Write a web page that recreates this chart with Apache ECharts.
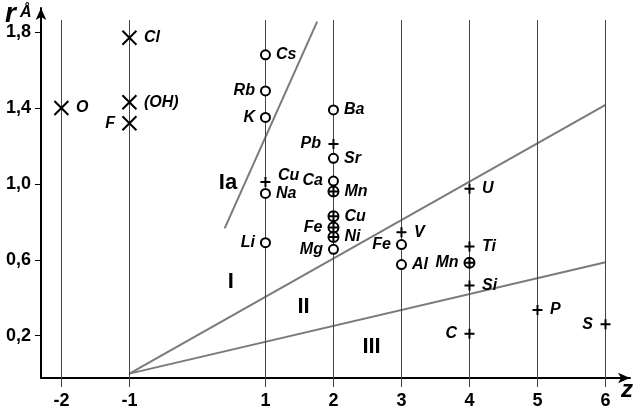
<!DOCTYPE html>
<html>
<head>
<meta charset="utf-8">
<script src="https://cdn.jsdelivr.net/npm/echarts@6/dist/echarts.min.js"></script>
<style>
  html, body { margin: 0; padding: 0; background: #fff; }
  #chart { width: 638px; height: 414px; }
</style>
</head>
<body>
<div id="chart"></div>
<script>
// ---- data ----
// tick labels
const zTicks = [-2, -1, 1, 2, 3, 4, 5, 6];
const rTicks = [0.2, 0.6, 1.0, 1.4, 1.8];
const gridZ = [-2, -1, 0, 1, 2, 3, 4, 5, 6];

// anions (X marks)
const crossNames = ['O', 'Cl', '(OH)', 'F'];
const crossZ = [-2, -1, -1, -1];
const crossR = [1.40, 1.77, 1.43, 1.32];
const crossSide = ['right', 'right', 'right', 'left'];

// open circles
const circNames = ['Cs', 'Rb', 'K', 'Na', 'Li', 'Ba', 'Sr', 'Ca', 'Mg', 'Fe', 'Al'];
const circZ = [1, 1, 1, 1, 1, 2, 2, 2, 2, 3, 3];
const circR = [1.68, 1.49, 1.35, 0.95, 0.69, 1.39, 1.135, 1.015, 0.655, 0.68, 0.575];
const circSide = ['right', 'left', 'left', 'right', 'left', 'right', 'right', 'left', 'left', 'left', 'right'];

// plus marks
const plusNames = ['Cu', 'Pb', 'V', 'U', 'Ti', 'Si', 'C', 'P', 'S'];
const plusZ = [1, 2, 3, 4, 4, 4, 4, 5, 6];
const plusR = [1.01, 1.21, 0.745, 0.975, 0.67, 0.465, 0.21, 0.335, 0.26];
const plusSide = ['right', 'left', 'right', 'right', 'right', 'right', 'left', 'right', 'left'];

// circled plus
const oplusNames = ['Mn', 'Cu', 'Fe', 'Ni', 'Mn'];
const oplusZ = [2, 2, 2, 2, 4];
const oplusR = [0.96, 0.83, 0.77, 0.72, 0.585];
const oplusSide = ['right', 'right', 'left', 'right', 'left'];

// boundary lines
const lineUpper = [[-1, 0], [6, 1.416]];
const lineLower = [[-1, 0], [6, 0.587]];
const lineIa = [[0.40, 0.766], [1.76, 1.855]];

// field names
const fieldNames = ['Ia', 'I', 'II', 'III'];
const fieldZ = [0.45, 0.49, 1.56, 2.56];
const fieldR = [1.005, 0.483, 0.351, 0.141];

// ---- chart ----
const yMin = -0.023, yMax = 1.927, gridTopR = 1.864;
const labelFont = { fontFamily: 'Liberation Sans', fontWeight: 'bold', fontStyle: 'italic', fontSize: 16, color: '#000' };

function pts(names, zs, rs, sides) {
  return names.map((n, i) => {
    const item = { name: n, value: [zs[i], rs[i]], label: { position: sides[i] } };
    // Cu at z=1 has its label lifted a bit
    if (n === 'Cu' && zs[i] === 1) item.label.offset = [0, -6];
    return item;
  });
}

function markSeries(name, symbol, size, fill, data) {
  return {
    name: name,
    type: 'scatter',
    symbol: symbol,
    symbolSize: size,
    itemStyle: { color: fill, borderColor: '#000', borderWidth: 2, opacity: 1 },
    label: Object.assign({ show: true, formatter: '{b}', distance: 5 }, labelFont),
    data: data,
    z: 5
  };
}

const myChart = echarts.init(document.getElementById('chart'));

const options = {
  animation: false,
  backgroundColor: '#fff',
  grid: { left: 41, right: 8, top: 8, bottom: 36 },
  xAxis: {
    type: 'value',
    min: -2.3,
    max: 6.36,
    axisLine: { show: true, onZero: false, lineStyle: { color: '#000', width: 2 }, symbol: ['none', 'arrow'], symbolSize: [8, 12] },
    axisTick: { show: true, customValues: zTicks, length: 9, lineStyle: { color: '#444', width: 1 } },
    axisLabel: { customValues: zTicks, margin: 14, fontFamily: 'Liberation Sans', fontWeight: 'bold', fontSize: 18, color: '#000' },
    splitLine: { show: false }
  },
  yAxis: {
    type: 'value',
    min: yMin,
    max: yMax,
    axisLine: { show: true, onZero: false, lineStyle: { color: '#000', width: 2 }, symbol: ['none', 'arrow'], symbolSize: [8, 12] },
    axisTick: { show: true, customValues: rTicks, length: 6, lineStyle: { color: '#000', width: 1 } },
    axisLabel: {
      customValues: rTicks, margin: 10,
      fontFamily: 'Liberation Sans', fontWeight: 'bold', fontSize: 18, color: '#000',
      formatter: v => v.toFixed(1).replace('.', ',')
    },
    splitLine: { show: false }
  },
  graphic: [
    { type: 'text', left: 5, top: 0, style: { text: 'r', fill: '#000', font: 'italic bold 28px "Liberation Sans"' } },
    { type: 'text', left: 20, top: 5, style: { text: 'Å', fill: '#000', font: 'italic bold 16px "Liberation Sans"' } },
    { type: 'text', left: 621, top: 378, style: { text: 'z', fill: '#000', font: 'italic bold 24px "Liberation Sans"' } }
  ],
  series: [
    {
      name: 'grid',
      type: 'line',
      data: [],
      clip: false,
      silent: true,
      markLine: {
        symbol: 'none',
        silent: true,
        animation: false,
        label: { show: false },
        lineStyle: { color: '#444', width: 1, type: 'solid' },
        data: gridZ.map(z => [{ coord: [z, z === 0 ? -0.13 : yMin] }, { coord: [z, gridTopR] }])
      }
    },
    { name: 'I/II', type: 'line', data: lineUpper, symbol: 'none', lineStyle: { color: '#7a7a7a', width: 2 }, z: 3 },
    { name: 'II/III', type: 'line', data: lineLower, symbol: 'none', lineStyle: { color: '#7a7a7a', width: 2 }, z: 3 },
    { name: 'Ia', type: 'line', data: lineIa, symbol: 'none', lineStyle: { color: '#7a7a7a', width: 2 }, z: 3 },
    {
      name: 'fields',
      type: 'scatter',
      symbolSize: 0,
      itemStyle: { opacity: 1 },
      data: fieldNames.map((n, i) => ({ name: n, value: [fieldZ[i], fieldR[i]] })),
      label: { show: true, position: 'inside', formatter: '{b}', fontFamily: 'Liberation Sans', fontWeight: 'bold', fontSize: 22, color: '#000' },
      z: 4
    },
    markSeries('anion', 'path://M0,0 L10,10 M10,0 L0,10', 14, 'none', pts(crossNames, crossZ, crossR, crossSide)),
    markSeries('circle', 'circle', 9, '#fff', pts(circNames, circZ, circR, circSide)),
    markSeries('plus', 'path://M0,5 L10,5 M5,0 L5,10', 10, 'none', pts(plusNames, plusZ, plusR, plusSide)),
    markSeries('oplus', 'path://M0,5 A5,5 0 1,1 10,5 A5,5 0 1,1 0,5 Z M0,5 L10,5 M5,0 L5,10', 10, '#fff', pts(oplusNames, oplusZ, oplusR, oplusSide))
  ]
};

myChart.setOption(options);
</script>
</body>
</html>
